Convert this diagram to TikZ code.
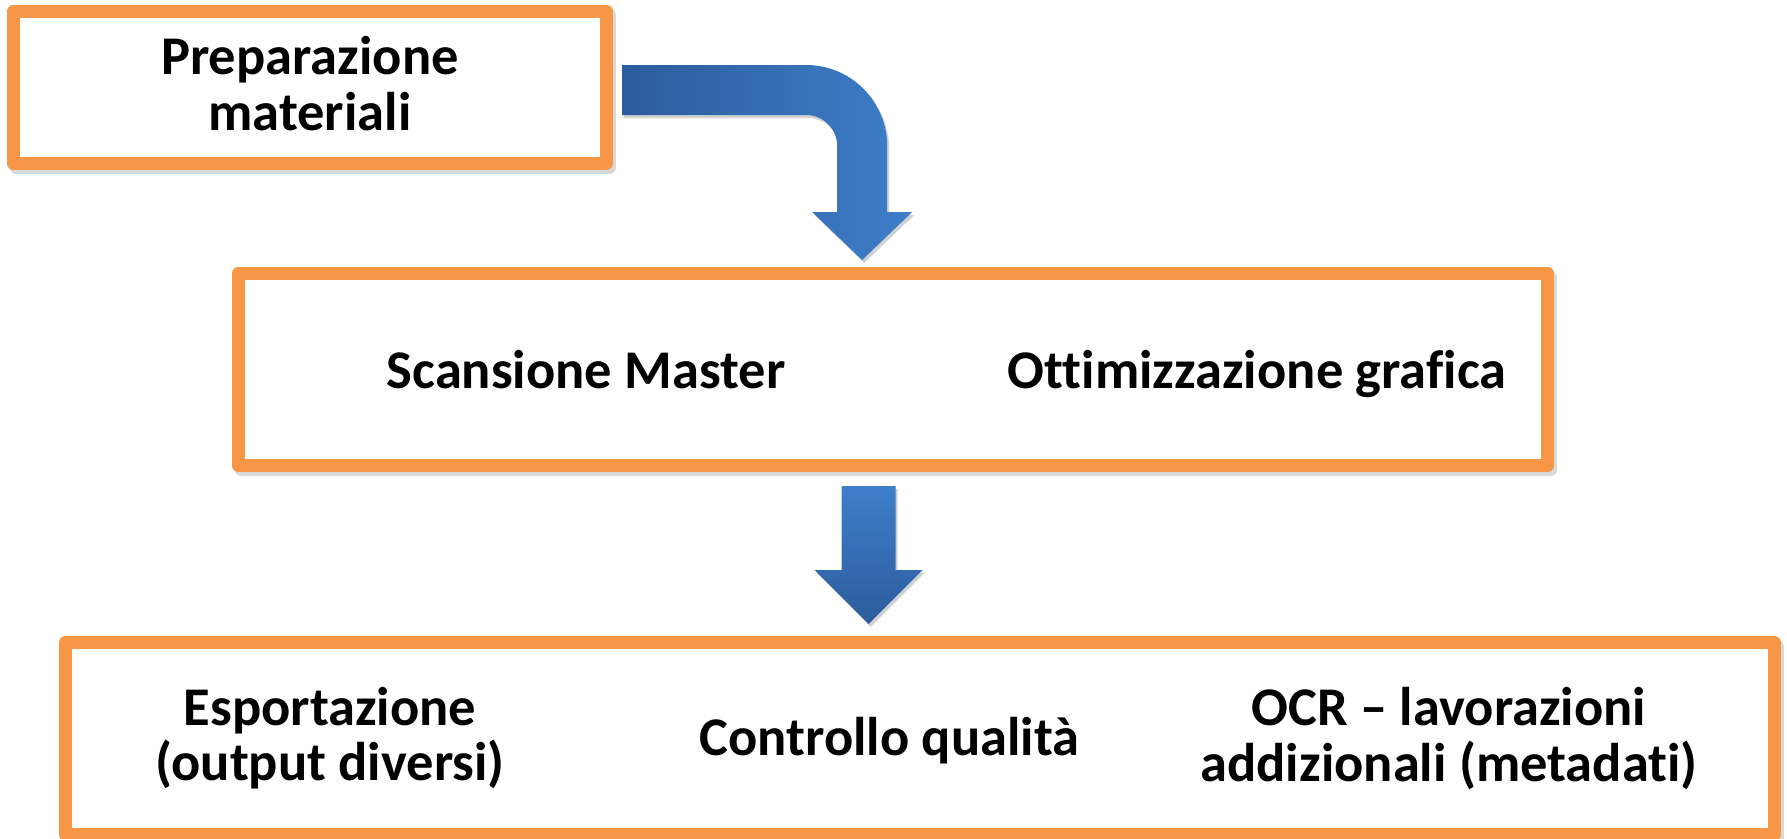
\documentclass[tikz,border=0pt]{standalone}
\usepackage{fontspec}
\setmainfont[Ligatures={TeX,NoCommon}]{Carlito}
\usetikzlibrary{calc,shadows}
\definecolor{boxorange}{HTML}{F79646}
\definecolor{arrowdark}{HTML}{2C5C9C}
\definecolor{arrowlight}{HTML}{3E7ECA}

\begin{document}
\begin{tikzpicture}[x=0.01cm, y=-0.01cm,
    boxshadow/.style={drop shadow={shadow xshift=0.03cm, shadow yshift=-0.04cm,
      opacity=0.15, fill=black, draw=black, line width=0.13cm}},
    arrowshadow/.style={drop shadow={shadow xshift=0.02cm, shadow yshift=-0.03cm,
      opacity=0.18, fill=black}},
    stepbox/.style={draw=boxorange, fill=white, line width=0.13cm, line join=round,
      inner sep=0pt, outer sep=0pt, boxshadow},
    lab/.style={font=\bfseries\fontsize{15.5}{15.7}\selectfont, align=center,
      inner sep=0pt}]
  \useasboundingbox (0,0) rectangle (1787,838);
  % the three boxes
  \node[stepbox, minimum width=5.93cm, minimum height=1.52cm] (prep) at (310,87.5) {};
  \node[stepbox, minimum width=13.09cm, minimum height=1.92cm] (scan) at (893,369.5) {};
  \node[stepbox, minimum width=17.08cm, minimum height=1.92cm] (post) at (919.5,738.5) {};
  % text of the top box
  \node[lab] (prepare) at ($(prep.center)+(0,-4)$) {Preparazione\\materiali};
  % texts of the middle box
  \node[lab, anchor=base] (master) at ($(scan.center)+(-307,18.5)$) {Scansione Master};
  \node[lab, anchor=base] (grafica) at ($(scan.center)+(364,18.5)$) {Ottimizzazione grafica};
  % texts of the bottom box
  \node[lab] (export) at ($(post.center)+(-589.5,0)$) {Esportazione\\(output diversi)};
  \node[lab, anchor=base] (quality) at ($(post.center)+(-30,16.5)$) {Controllo qualità};
  \node[lab] (ocr) at ($(post.center)+(529.5,0)$) {OCR – lavorazioni\\addizionali (metadati)};
  % bent arrow: prep -> scan
  \coordinate (b0) at ($(prep.east)+(15.5,-22.5)$);
  \shade[arrowshadow, left color=arrowdark, right color=arrowlight]
    (b0) -- ++(184,0) arc[start angle=-90, end angle=0, radius=81]
    -- ++(0,66) -- ++(25,0) -- ++(-50,48) -- ++(-50,-48) -- ++(25,0)
    -- ++(0,-66) arc[start angle=0, end angle=-90, radius=31] -- ++(-184,0) -- cycle;
  % down arrow: scan -> post
  \coordinate (d0) at ($(scan.south west)+(603.5,20.5)$);
  \shade[arrowshadow, top color=arrowlight, bottom color=arrowdark]
    (d0) -- ++(54,0) -- ++(0,84) -- ++(27,0) -- ++(-54,54) -- ++(-54,-54)
    -- ++(27,0) -- cycle;
\end{tikzpicture}
\end{document}
